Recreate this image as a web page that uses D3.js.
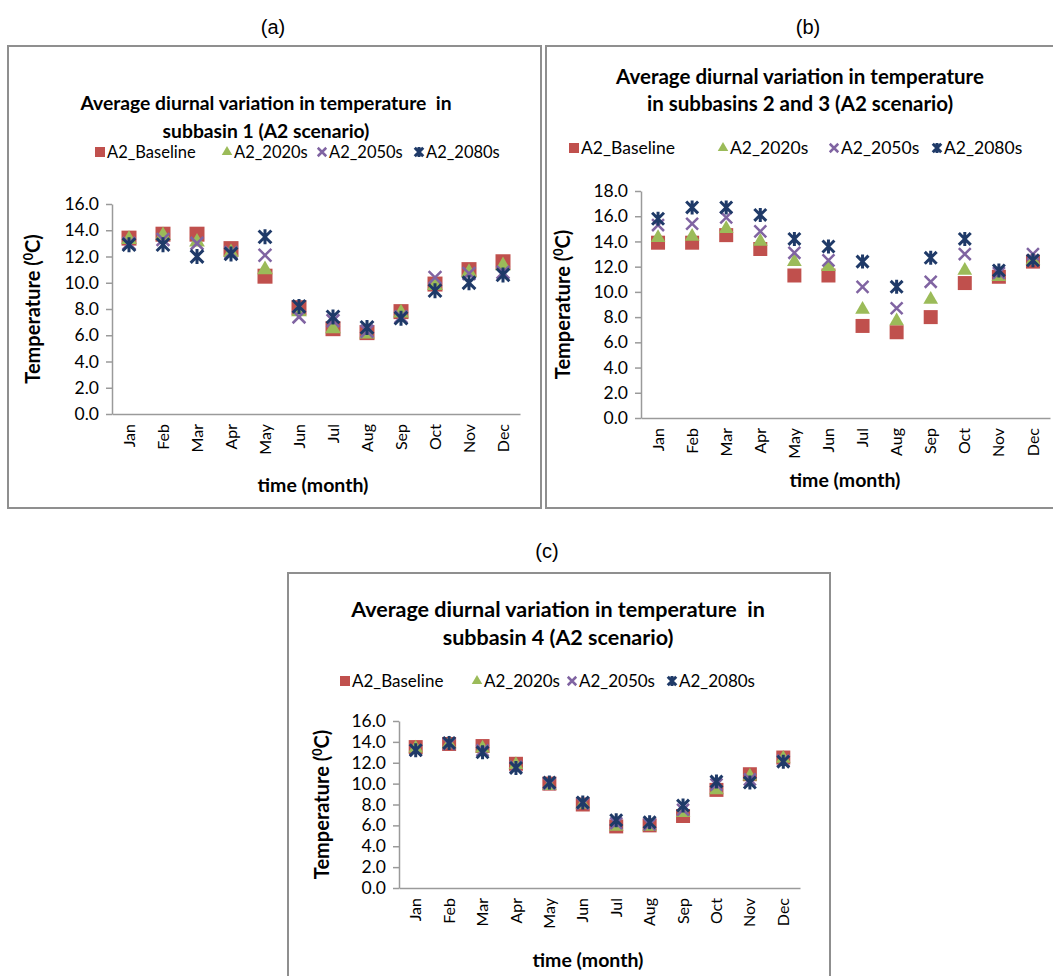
<!DOCTYPE html>
<html>
<head>
<meta charset="utf-8">
<script src="https://cdn.jsdelivr.net/npm/d3@7"></script>
<style>
  body { margin: 0; background: #fff; }
  svg text { font-family: Lato, "Open Sans", sans-serif; fill: #000; }
</style>
</head>
<body>
<svg id="chart" width="1053" height="976"></svg>
<script>
var months = ["Jan","Feb","Mar","Apr","May","Jun","Jul","Aug","Sep","Oct","Nov","Dec"];
var seriesNames = ["A2_Baseline","A2_2020s","A2_2050s","A2_2080s"];
var ticks16 = [0,2,4,6,8,10,12,14,16];
var ticks18 = [0,2,4,6,8,10,12,14,16,18];

// subbasin 1
var sub1Base = [13.4,13.7,13.7,12.6,10.5,8.1,6.5,6.2,7.8,9.9,11.0,11.6];
var sub1_2020 = [13.3,13.6,13.1,12.3,11.0,7.8,6.5,6.1,7.7,9.8,10.8,11.3];
var sub1_2050 = [13.0,13.3,13.0,12.3,12.1,7.4,7.1,6.3,7.4,10.4,10.7,10.8];
var sub1_2080 = [12.9,12.9,12.0,12.2,13.5,8.2,7.4,6.6,7.3,9.4,10.0,10.6];

// subbasins 2 and 3
var sub23Base = [13.9,13.9,14.5,13.4,11.3,11.3,7.3,6.8,8.0,10.7,11.2,12.4];
var sub23_2020 = [14.3,14.4,15.0,14.0,12.4,12.0,8.6,7.7,9.4,11.7,11.2,12.5];
var sub23_2050 = [15.3,15.4,15.9,14.8,13.1,12.5,10.4,8.7,10.8,13.0,11.5,13.0];
var sub23_2080 = [15.8,16.7,16.7,16.1,14.2,13.6,12.4,10.4,12.7,14.2,11.7,12.5];

// subbasin 4
var sub4Base = [13.5,13.8,13.6,11.9,10.0,8.0,5.9,6.0,6.9,9.4,10.9,12.5];
var sub4_2020 = [13.4,13.8,13.4,11.8,9.8,8.0,5.9,5.9,7.2,9.4,10.7,12.4];
var sub4_2050 = [13.2,13.8,13.2,11.6,10.0,8.1,6.2,6.1,7.5,9.9,10.4,12.2];
var sub4_2080 = [13.2,13.9,13.0,11.5,10.1,8.2,6.5,6.3,7.9,10.2,10.1,12.1];

var colors = ["#c0504d","#9bbb59","#8064a2","#1f3a68"],
    shapes = ["square","triangle","x","star"],
    svg = d3.select("#chart");

var panels = [
  { label: "(a)", labelX: 273, labelY: 27, box: [8, 46, 533, 462],
    title: ["Average diurnal variation in temperature  in", "subbasin 1 (A2 scenario)"],
    titleX: 266, titleY: [103, 131], titleSize: 19.3,
    legendY: 152, legendX: [95, 222, 317, 414], legendSize: 16.5,
    x0: 112, x1: 520, yTop: 204, yBottom: 414, yMax: 16, ticks: ticks16,
    yTitleX: 33, xTitleX: 313, xTitleY: 485, markerSize: 15,
    data: [sub1Base, sub1_2020, sub1_2050, sub1_2080] },
  { label: "(b)", labelX: 808, labelY: 27, box: [546, 46, 520, 462],
    title: ["Average diurnal variation in temperature", "in subbasins 2 and 3 (A2 scenario)"],
    titleX: 800, titleY: [77, 104], titleSize: 20.5,
    legendY: 148, legendX: [569, 718, 829, 932], legendSize: 17.5,
    x0: 641, x1: 1050, yTop: 191, yBottom: 418, yMax: 18, ticks: ticks18,
    yTitleX: 563, xTitleX: 845, xTitleY: 480, markerSize: 14,
    data: [sub23Base, sub23_2020, sub23_2050, sub23_2080] },
  { label: "(c)", labelX: 547, labelY: 551, box: [288, 573, 542, 420],
    title: ["Average diurnal variation in temperature  in", "subbasin 4 (A2 scenario)"],
    titleX: 558, titleY: [609, 637], titleSize: 21.5,
    legendY: 681, legendX: [340, 472, 567, 667], legendSize: 17,
    x0: 399, x1: 800, yTop: 721, yBottom: 888, yMax: 16, ticks: ticks16,
    yTitleX: 322, xTitleX: 588, xTitleY: 960, markerSize: 14,
    data: [sub4Base, sub4_2020, sub4_2050, sub4_2080] }
];

function markerPath(type, s) {
  var h = s / 2;
  if (type == "square") return d3.symbol(d3.symbolSquare, s * s)();
  if (type == "triangle") return d3.symbol(d3.symbolTriangle, s * s * 0.48)();
  var d = "M" + (-h*0.85) + "," + (-h*0.85) + "L" + (h*0.85) + "," + (h*0.85) +
          "M" + (-h*0.85) + "," + (h*0.85) + "L" + (h*0.85) + "," + (-h*0.85);
  if (type == "star") d += "M0," + (-h) + "L0," + h;
  return d;
}

function drawMarker(g, i, s) {
  var p = g.append("path").attr("d", markerPath(shapes[i], s));
  if (i < 2) p.style("fill", colors[i]);
  else p.style("fill", "none").style("stroke", colors[i]).style("stroke-width", i == 3 ? 3 : 2.5);
  return p;
}

panels.forEach(function(P) {
  svg.append("text").attr("x", P.labelX).attr("y", P.labelY)
    .attr("text-anchor", "middle").attr("dy", "0.35em")
    .style("font-family", "'Liberation Sans', Arial, sans-serif").style("font-size", "20px")
    .text(P.label);

  svg.append("rect").attr("x", P.box[0]).attr("y", P.box[1])
    .attr("width", P.box[2]).attr("height", P.box[3])
    .style("fill", "none").style("stroke", "#8f8f8f").style("stroke-width", 2);

  P.title.forEach(function(t, k) {
    svg.append("text").attr("x", P.titleX).attr("y", P.titleY[k]).attr("dy", "0.35em")
      .attr("text-anchor", "middle").style("font-weight", "bold")
      .style("font-size", P.titleSize + "px").style("white-space", "pre").text(t);
  });

  // legend
  seriesNames.forEach(function(name, i) {
    var lg = svg.append("g").attr("transform", "translate(" + P.legendX[i] + "," + P.legendY + ")");
    drawMarker(lg.append("g").attr("transform", "translate(5,0)"), i, 10);
    lg.append("text").attr("x", 12).attr("dy", "0.35em")
      .style("font-size", P.legendSize + "px").text(name);
  });

  var x = d3.scaleBand().domain(months).range([P.x0, P.x1]);
  var y = d3.scaleLinear().domain([0, P.yMax]).range([P.yBottom, P.yTop]);

  var yAxis = svg.append("g").attr("transform", "translate(" + P.x0 + ",0)")
    .call(d3.axisLeft(y).tickValues(P.ticks).tickFormat(d3.format(".1f")).tickSize(6).tickPadding(7).tickSizeOuter(0));
  yAxis.selectAll("text").style("font-size", "17.5px");

  var xAxis = svg.append("g").attr("transform", "translate(0," + P.yBottom + ")")
    .call(d3.axisBottom(x).tickSize(0).tickSizeOuter(0));
  xAxis.selectAll("text")
    .style("font-size", "16px")
    .attr("text-anchor", "end")
    .attr("transform", "rotate(-90)")
    .attr("x", -10).attr("y", 0).attr("dy", "0.35em");

  svg.selectAll(".domain, .tick line").style("stroke", "#9a9a9a").style("stroke-width", 1.5);

  // axis titles
  var yt = svg.append("text")
    .attr("transform", "translate(" + P.yTitleX + "," + ((P.yTop + P.yBottom) / 2) + ") rotate(-90)")
    .attr("text-anchor", "middle").attr("dy", "0.35em")
    .style("font-weight", "bold").style("font-size", "20px");
  yt.append("tspan").text("Temperature (");
  yt.append("tspan").attr("baseline-shift", "super").style("font-size", "12.5px").text("0");
  yt.append("tspan").text("C)");

  svg.append("text").attr("x", P.xTitleX).attr("y", P.xTitleY).attr("dy", "0.35em")
    .attr("text-anchor", "middle").style("font-weight", "bold").style("font-size", "19.5px")
    .text("time (month)");

  // points
  P.data.forEach(function(vals, i) {
    var g = svg.append("g").attr("class", "series-" + i);
    vals.forEach(function(v, m) {
      var mg = g.append("g").attr("transform",
        "translate(" + (x(months[m]) + x.bandwidth() / 2) + "," + y(v) + ")");
      drawMarker(mg, i, P.markerSize);
    });
  });
});
</script>
</body>
</html>
